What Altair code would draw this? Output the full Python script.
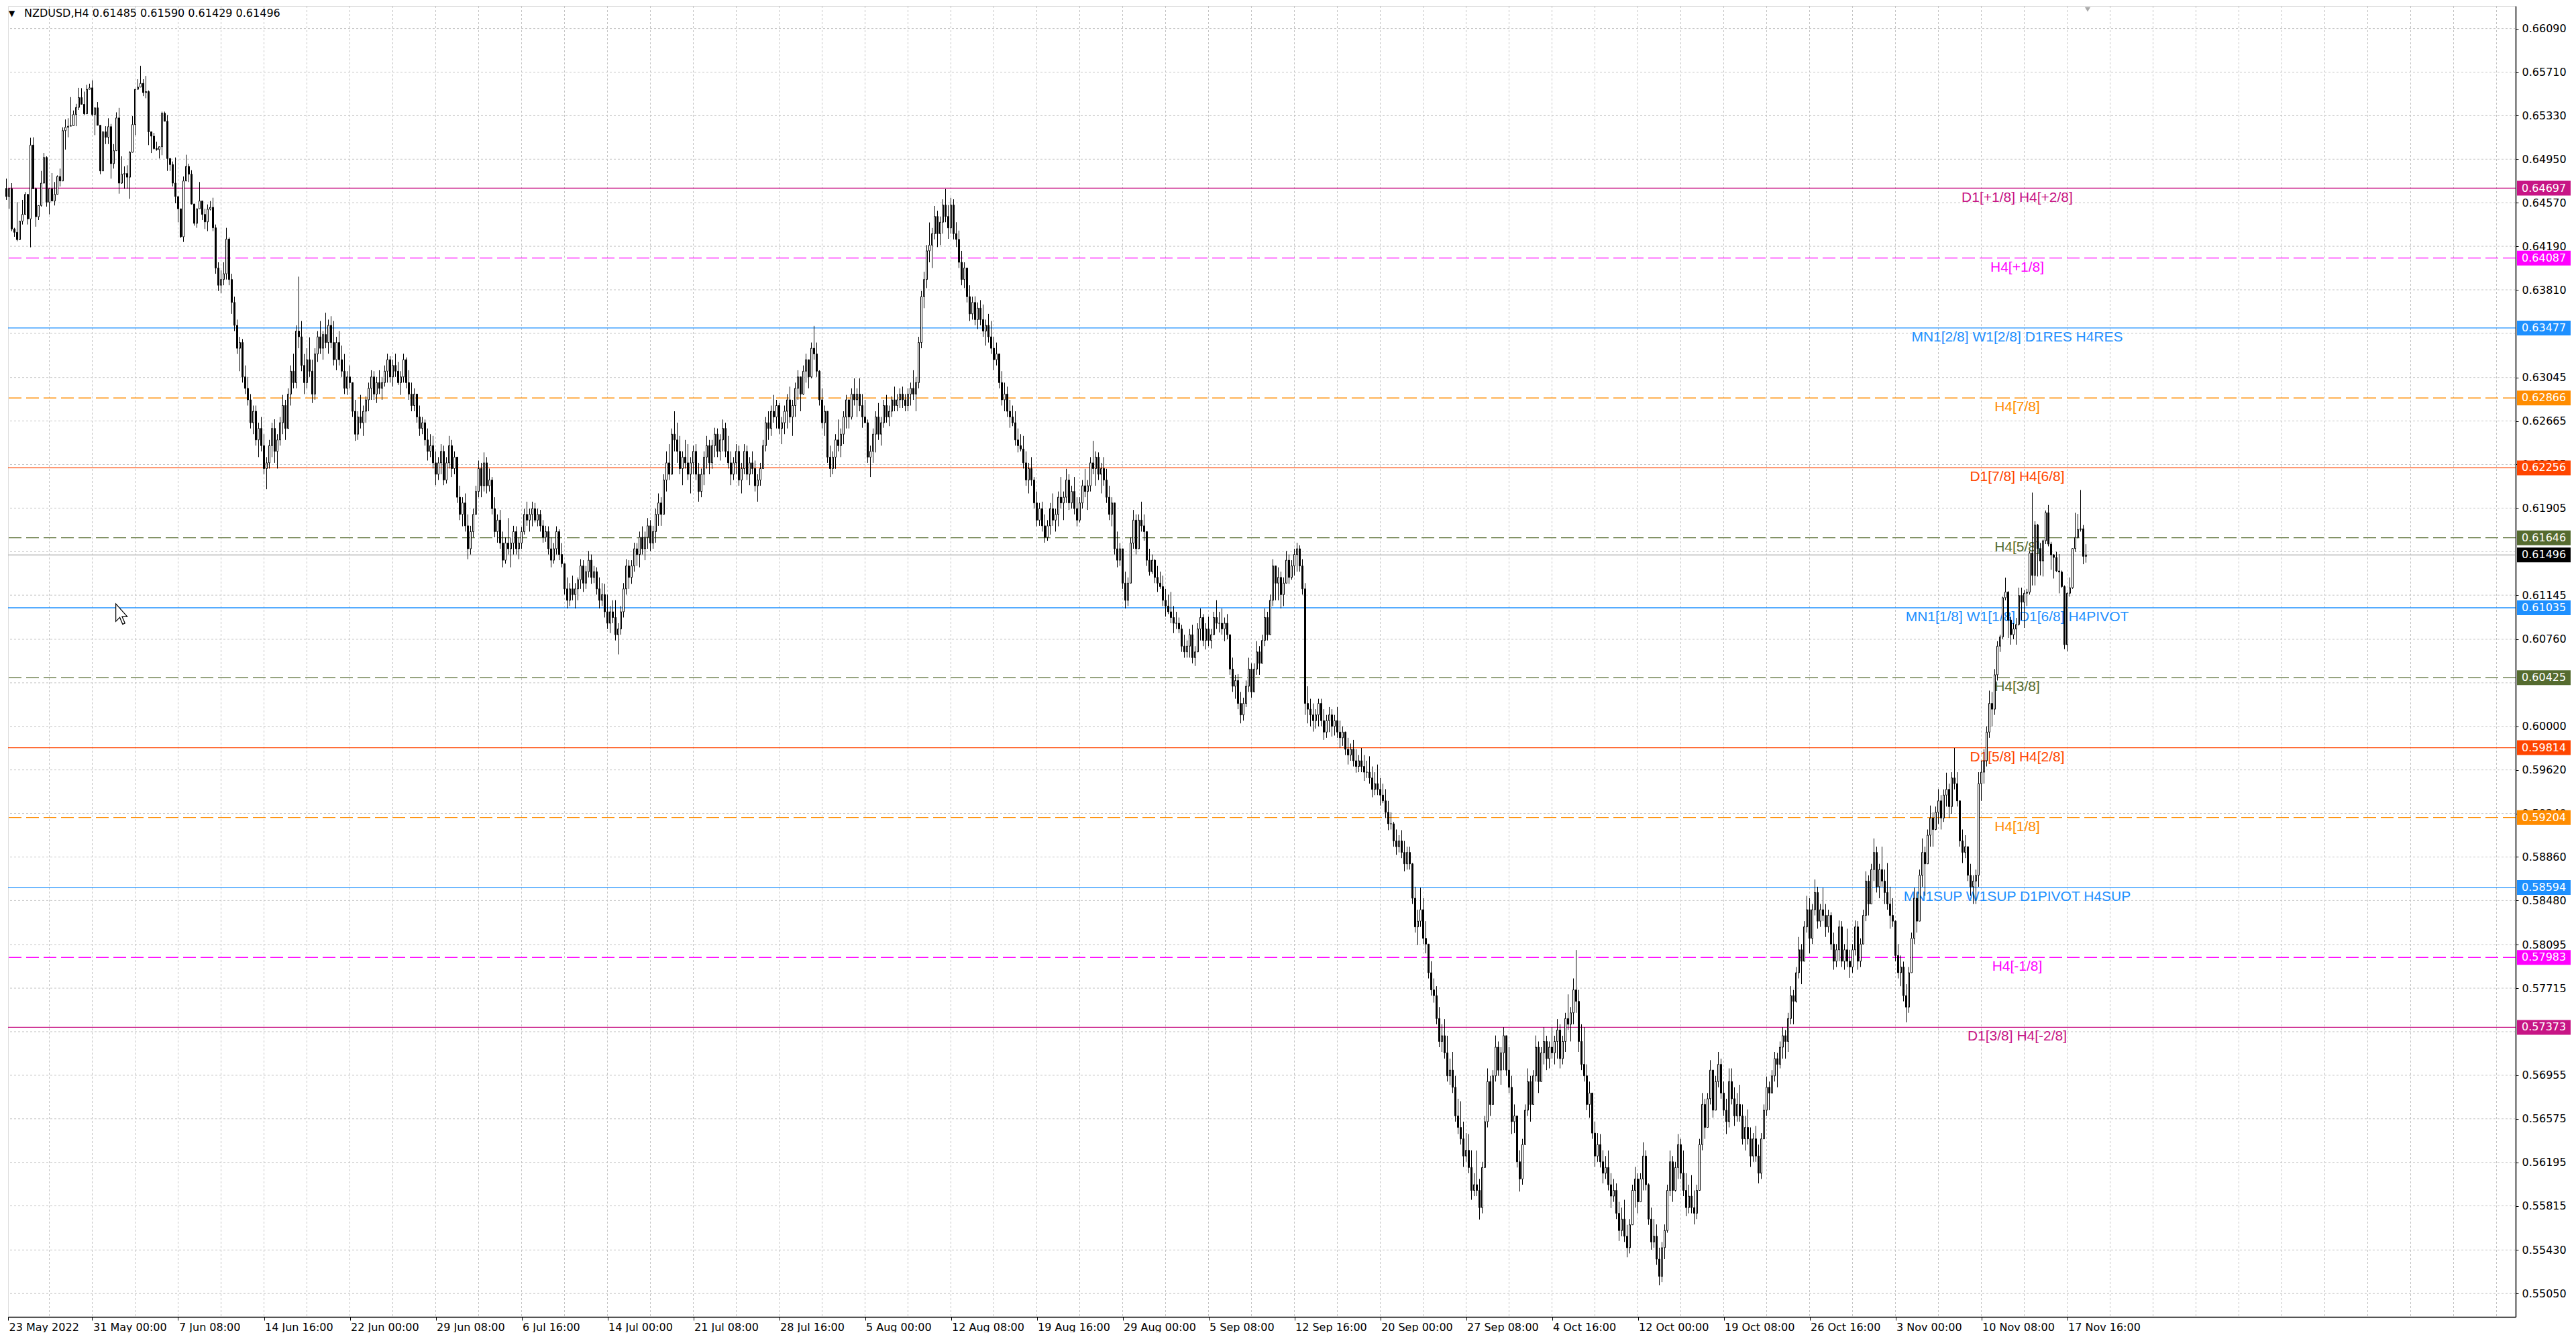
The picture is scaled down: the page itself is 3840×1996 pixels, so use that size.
import altair as alt
import pandas as pd

# ---------------- layout constants ----------------
W, H = 3738, 1954
X_DOMAIN = [0.625, 935.125]
Y_DOMAIN = [0.548464, 0.662867]
FONT = "DejaVu Sans"
LFONT = "Liberation Sans"

# ---------------- data: NZDUSD H4 candles (prices x 1e5) ----------------
first_open_1e5 = 64696
highs_1e5 = [
    64780, 64700, 64741, 64351, 64575, 64409, 64595, 64663, 64643, 65137,
    65141, 64702, 64546, 64848, 65004, 64975, 64692, 64829, 64751, 64809,
    64868, 65228, 65297, 65307, 65492, 65375, 65433, 65573, 65570, 65540,
    65599, 65609, 65638, 65398, 65449, 65246, 65189, 65238, 65307, 65258,
    65082, 65359, 65398, 64975, 64887, 64897, 65020, 65326, 65560, 65648,
    65765, 65648, 65677, 65550, 65189, 65180, 65102, 65059, 65365, 65365,
    65336, 64956, 64930, 64965, 64624, 64517, 64799, 64989, 64911, 64854,
    64559, 64517, 64751, 64585, 64517, 64555, 64585, 64614, 64380, 64050,
    63980, 64050, 64351, 64267, 63950, 63750, 63550, 63400, 63380, 63150,
    63050, 62900, 62800, 62800, 62650, 62700, 62550, 62350, 62500, 62650,
    62680, 62550, 62700, 62893, 62850, 62950, 63150, 63252, 63500, 63925,
    63538, 63250, 63300, 63395, 63200, 63300, 63450, 63538, 63450, 63610,
    63550, 63580, 63538, 63400, 63450, 63323, 63250, 63100, 63150, 62965,
    62850, 62750, 62893, 62800, 62880, 63000, 63108, 63100, 63050, 63108,
    63050, 63150, 63252, 63230, 63200, 63252, 63180, 63100, 63252, 63220,
    63108, 63000, 62950, 62893, 62800, 62700, 62678, 62600, 62550, 62535,
    62400, 62350, 62463, 62450, 62350, 62535, 62500, 62400, 62248, 62100,
    62000, 62033, 61850, 61750, 61900, 62100, 62320, 62300, 62391, 62350,
    62250, 62176, 62000, 61850, 61889, 61700, 61650, 61818, 61650, 61750,
    61746, 61650, 61740, 61900, 61961, 61900, 61961, 61950, 61900, 61889,
    61800, 61750, 61746, 61650, 61600, 61746, 61720, 61600, 61388, 61300,
    61250, 61316, 61250, 61300, 61459, 61450, 61400, 61531, 61500, 61400,
    61388, 61300, 61250, 61244, 61150, 61050, 61100, 61101, 60900, 61050,
    61250, 61459, 61450, 61450, 61603, 61600, 61700, 61746, 61700, 61818,
    61800, 61750, 61900, 62033, 62000, 62200, 62400, 62463, 62600, 62750,
    62650, 62535, 62400, 62500, 62463, 62350, 62450, 62463, 62300, 62250,
    62400, 62535, 62500, 62500, 62606, 62600, 62550, 62678, 62650, 62535,
    62400, 62350, 62463, 62450, 62300, 62463, 62450, 62350, 62400, 62320,
    62200, 62300, 62500, 62700, 62750, 62800, 62893, 62850, 62822, 62700,
    62800, 62900, 62965, 62850, 63000, 63108, 63050, 63150, 63252, 63200,
    63350, 63495, 63350, 63108, 62950, 62800, 62606, 62450, 62400, 62550,
    62678, 62600, 62750, 62893, 62850, 62950, 63037, 62950, 63037, 62900,
    62850, 62678, 62450, 62600, 62750, 62822, 62700, 62850, 62893, 62800,
    62880, 62965, 62900, 62950, 62965, 62900, 62950, 63000, 63108, 63050,
    63400, 63800, 63968, 64200, 64398, 64350, 64542, 64500, 64450, 64600,
    64690, 64550, 64614, 64600, 64400, 64327, 64150, 64050, 63968, 63850,
    63750, 63753, 63700, 63720, 63682, 63550, 63600, 63538, 63400, 63350,
    63252, 63100, 63000, 62965, 62850, 62800, 62750, 62600, 62550, 62535,
    62400, 62300, 62350, 62176, 62050, 61950, 61961, 61850, 61800, 61950,
    62033, 61900, 62050, 62176, 62050, 62248, 62200, 62100, 62176, 62000,
    62000, 62150, 62248, 62150, 62350, 62492, 62400, 62391, 62300, 62350,
    62248, 62100, 62000, 61818, 61700, 61600, 61531, 61350, 61300, 61650,
    61889, 61850, 61850, 61961, 61850, 61674, 61550, 61500, 61459, 61400,
    61350, 61316, 61200, 61150, 61173, 61050, 61000, 60950, 60886, 60800,
    60750, 60850, 60886, 60700, 60900, 61029, 60980, 60900, 60958, 60850,
    61000, 61101, 61000, 61029, 60950, 60980, 60743, 60600, 60450, 60456,
    60300, 60250, 60400, 60599, 60550, 60550, 60743, 60700, 60800, 61029,
    61000, 61150, 61459, 61400, 61388, 61350, 61300, 61531, 61500, 61450,
    61550, 61603, 61580, 61459, 61250, 60350, 60241, 60200, 60150, 60241,
    60241, 60150, 60100, 60169, 60150, 60100, 60169, 60050, 60000, 59954,
    59900, 59850, 59882, 59800, 59750, 59811, 59750, 59700, 59739, 59650,
    59600, 59667, 59550, 59500, 59452, 59350, 59250, 59166, 59100, 59050,
    59094, 59000, 58950, 58950, 58807, 58600, 58400, 58592, 58500, 58300,
    58091, 57950, 57800, 57732, 57550, 57400, 57445, 57300, 57100, 57159,
    56950, 56750, 56728, 56550, 56450, 56442, 56300, 56100, 56298, 56050,
    56200, 56600, 57015, 56950, 57000, 57302, 57250, 57200, 57374, 57300,
    57200, 56950, 56700, 56585, 56300, 56400, 56700, 57015, 56950, 57000,
    57302, 57250, 57200, 57374, 57300, 57250, 57374, 57300, 57445, 57400,
    57300, 57500, 57661, 57550, 57800, 58048, 57700, 57400, 57374, 57050,
    56900, 56728, 56550, 56450, 56442, 56300, 56250, 56298, 56100, 56050,
    56011, 55850, 55800, 55868, 55650, 55700, 56000, 56155, 56100, 56100,
    56370, 56300, 56011, 55800, 55700, 55653, 55450, 55500, 55653, 56000,
    56298, 56250, 56200, 56442, 56400, 56298, 56100, 56000, 56083, 55950,
    56000, 56400, 56800, 56750, 56800, 57087, 57000, 56950, 57159, 57100,
    56900, 56750, 57015, 57015, 56850, 56800, 56872, 56700, 56600, 56657,
    56500, 56450, 56513, 56350, 56450, 56700, 56944, 56900, 57000, 57159,
    57150, 57250, 57374, 57350, 57500, 57732, 57700, 57900, 58162, 58100,
    58300, 58521, 58500, 58450, 58664, 58600, 58450, 58592, 58450, 58400,
    58377, 58200, 58100, 58306, 58300, 58100, 58234, 58050, 58100, 58306,
    58300, 58150, 58400, 58735, 58700, 58800, 59022, 58950, 58800, 58950,
    58750, 58807, 58600, 58500, 58306, 58100, 58000, 57947, 57750, 57900,
    58200, 58592, 58550, 58750, 59022, 58950, 59100, 59309, 59250, 59300,
    59452, 59400, 59450, 59596, 59500, 59600, 59811, 59600, 59309, 59100,
    59050, 58950, 58800, 58700, 58750, 59600, 59700, 59800, 60000, 60312,
    60300, 60500, 60743, 60800, 61132, 61298, 61180, 60957, 60900, 60947,
    61211, 61211, 61190, 61200, 61530, 62040, 61790, 61767, 61601, 61630,
    61884, 61932, 61610, 61503, 61523, 61503, 61360, 61230, 61170, 61300,
    61540, 61864, 61854, 62063, 61757, 61590,
]
lows_1e5 = [
    64595, 64517, 64322, 64273, 64234, 64244, 64380, 64468, 64380, 64181,
    64692, 64361, 64419, 64536, 64741, 64536, 64468, 64585, 64546, 64643,
    64712, 64760, 65034, 65141, 65238, 65242, 65238, 65379, 65429, 65336,
    65346, 65560, 65326, 65160, 65246, 64819, 64848, 65082, 65082, 64780,
    64868, 65024, 64649, 64735, 64692, 64692, 64604, 65010, 65160, 65560,
    65579, 65501, 65482, 65073, 65004, 65034, 65024, 64956, 64985, 65281,
    64848, 64848, 64712, 64565, 64399, 64263, 64228, 64760, 64751, 64555,
    64370, 64351, 64517, 64419, 64341, 64322, 64503, 64322, 63950, 63800,
    63780, 63850, 63900, 63850, 63600, 63450, 63250, 63100, 63000, 62900,
    62800, 62600, 62550, 62450, 62350, 62400, 62200, 62070, 62250, 62350,
    62300, 62250, 62450, 62550, 62500, 62600, 62800, 62950, 62950, 63300,
    63100, 62900, 62950, 63050, 62822, 62850, 63180, 63250, 63200, 63300,
    63252, 63300, 63150, 63108, 63150, 63050, 62900, 62893, 62950, 62700,
    62492, 62500, 62600, 62535, 62650, 62750, 62850, 62850, 62822, 62900,
    62850, 62965, 63000, 63000, 62965, 63050, 62980, 62893, 63000, 62950,
    62850, 62750, 62750, 62650, 62535, 62550, 62450, 62320, 62350, 62250,
    62105, 62150, 62200, 62105, 62120, 62250, 62176, 62200, 61950, 61800,
    61746, 61700, 61459, 61500, 61650, 61889, 62000, 62000, 62050, 62033,
    62050, 61850, 61650, 61603, 61550, 61388, 61420, 61500, 61388, 61500,
    61500, 61459, 61550, 61674, 61750, 61700, 61746, 61780, 61746, 61700,
    61603, 61610, 61500, 61388, 61420, 61500, 61450, 61388, 61150, 61029,
    61050, 61100, 61029, 61100, 61200, 61173, 61200, 61300, 61244, 61250,
    61150, 61029, 61050, 60950, 60850, 60814, 60900, 60750, 60628, 60800,
    60950, 61150, 61200, 61244, 61350, 61400, 61388, 61500, 61450, 61550,
    61531, 61550, 61603, 61750, 61750, 61850, 62050, 62150, 62248, 62400,
    62300, 62200, 62105, 62250, 62150, 62033, 62200, 62150, 61961, 62000,
    62105, 62250, 62200, 62248, 62350, 62350, 62320, 62400, 62350, 62250,
    62105, 62150, 62200, 62100, 62033, 62200, 62150, 62105, 62200, 62050,
    61961, 62100, 62248, 62400, 62500, 62535, 62650, 62600, 62550, 62463,
    62550, 62600, 62650, 62535, 62700, 62850, 62750, 62893, 63000, 62950,
    63037, 63200, 63050, 62800, 62600, 62535, 62300, 62176, 62200, 62248,
    62400, 62350, 62463, 62600, 62600, 62678, 62800, 62700, 62750, 62606,
    62650, 62300, 62176, 62300, 62391, 62500, 62450, 62606, 62650, 62620,
    62700, 62750, 62750, 62780, 62780, 62750, 62750, 62800, 62850, 62750,
    62950, 63300, 63650, 63825, 64050, 64000, 64250, 64183, 64200, 64300,
    64400, 64255, 64300, 64250, 64183, 64000, 63850, 63825, 63700, 63538,
    63550, 63500, 63467, 63500, 63400, 63323, 63350, 63250, 63108, 63150,
    62950, 62800, 62750, 62700, 62606, 62620, 62450, 62391, 62400, 62250,
    62100, 62033, 62100, 61900, 61746, 61750, 61700, 61603, 61620, 61674,
    61750, 61700, 61746, 61900, 61800, 61950, 61889, 61900, 61850, 61746,
    61780, 61900, 62000, 61889, 62050, 62200, 62100, 62150, 62033, 62100,
    61950, 61800, 61746, 61500, 61388, 61400, 61200, 61029, 61050, 61250,
    61550, 61500, 61603, 61700, 61620, 61400, 61316, 61330, 61250, 61173,
    61200, 61050, 60958, 60980, 60900, 60814, 60850, 60814, 60650, 60599,
    60600, 60600, 60550, 60527, 60671, 60750, 60700, 60671, 60700, 60680,
    60814, 60850, 60820, 60800, 60743, 60760, 60450, 60300, 60241, 60150,
    60026, 60050, 60169, 60300, 60250, 60384, 60450, 60450, 60550, 60700,
    60750, 60800, 61050, 61100, 61100, 61029, 61050, 61250, 61244, 61280,
    61316, 61350, 61350, 61150, 60100, 60026, 60000, 59954, 59980, 60000,
    60000, 59882, 59900, 59950, 59911, 59920, 59900, 59811, 59830, 59750,
    59667, 59700, 59650, 59596, 59600, 59600, 59524, 59550, 59500, 59381,
    59400, 59400, 59309, 59330, 59200, 59094, 59100, 58950, 58879, 58900,
    58850, 58735, 58750, 58750, 58450, 58200, 58091, 58250, 58100, 58019,
    57800, 57650, 57589, 57400, 57200, 57159, 57100, 56900, 56872, 56800,
    56550, 56442, 56350, 56155, 56200, 56100, 55868, 55900, 55900, 55696,
    55750, 56150, 56500, 56600, 56800, 56900, 56950, 56872, 57000, 56950,
    56800, 56442, 56450, 56150, 55940, 56000, 56442, 56600, 56550, 56700,
    56900, 56800, 56944, 57050, 57000, 57015, 57100, 57050, 57100, 57015,
    57050, 57159, 57350, 57250, 57400, 57500, 57159, 57000, 56900, 56650,
    56585, 56400, 56155, 56200, 56150, 56011, 56050, 55950, 55796, 55850,
    55700, 55509, 55550, 55500, 55366, 55400, 55653, 55800, 55750, 55868,
    55950, 55950, 55650, 55432, 55450, 55300, 55122, 55150, 55350, 55581,
    55900, 55850, 55940, 56050, 56050, 55900, 55725, 55750, 55750, 55653,
    55700, 55950, 56300, 56400, 56500, 56700, 56585, 56657, 56850, 56750,
    56600, 56442, 56500, 56700, 56513, 56550, 56550, 56350, 56298, 56350,
    56155, 56200, 56200, 56011, 56050, 56442, 56600, 56650, 56800, 56900,
    56850, 57015, 57100, 57100, 57159, 57400, 57400, 57589, 57800, 57750,
    57950, 58200, 58019, 58100, 58350, 58234, 58250, 58300, 58162, 58200,
    58050, 57876, 57900, 57950, 57900, 57876, 57900, 57804, 57850, 58000,
    57876, 57900, 58100, 58300, 58350, 58449, 58650, 58550, 58500, 58600,
    58449, 58400, 58234, 58250, 57950, 57800, 57732, 57600, 57417, 57500,
    57850, 58100, 58200, 58300, 58600, 58521, 58879, 58950, 58950, 59094,
    59150, 59100, 59166, 59300, 59200, 59237, 59450, 59300, 58950, 58807,
    58850, 58650, 58521, 58450, 58450, 58600, 59350, 59500, 59650, 59900,
    60000, 60100, 60400, 60650, 60760, 61100, 60771, 60713, 60760, 60713,
    60880, 60928, 60859, 61050, 61150, 61230, 61230, 61308, 61318, 61308,
    61591, 61571, 61366, 61290, 61347, 61161, 61210, 60674, 60654, 61132,
    61200, 61523, 61640, 61700, 61415, 61429,
]
closes_1e5 = [
    64624, 64692, 64341, 64312, 64248, 64409, 64468, 64643, 64429, 65073,
    64692, 64448, 64546, 64741, 64965, 64575, 64692, 64585, 64643, 64799,
    64760, 65199, 65228, 65238, 65242, 65340, 65402, 65488, 65429, 65346,
    65560, 65573, 65340, 65398, 65246, 64848, 65189, 65141, 65234, 64911,
    65024, 65310, 64741, 64819, 64825, 64793, 65010, 65252, 65560, 65579,
    65612, 65531, 65540, 65189, 65151, 65043, 65034, 65059, 65351, 65281,
    64956, 64903, 64741, 64624, 64517, 64273, 64760, 64887, 64819, 64559,
    64390, 64517, 64585, 64468, 64403, 64513, 64530, 64351, 64000, 63850,
    63900, 63950, 64253, 63900, 63700, 63500, 63300, 63350, 63050, 62950,
    62850, 62650, 62750, 62500, 62600, 62450, 62250, 62300, 62450, 62600,
    62400, 62500, 62650, 62800, 62600, 62900, 63100, 63000, 63450, 63400,
    63150, 63000, 63200, 63100, 62900, 63250, 63400, 63300, 63420, 63350,
    63500, 63350, 63200, 63350, 63200, 63100, 62950, 63050, 63000, 62750,
    62550, 62700, 62650, 62750, 62850, 62950, 63050, 62900, 63000, 62950,
    63000, 63100, 63200, 63050, 63150, 63100, 63000, 63050, 63200, 63000,
    62900, 62800, 62900, 62700, 62600, 62650, 62500, 62400, 62450, 62300,
    62200, 62300, 62400, 62150, 62300, 62450, 62250, 62350, 62000, 61850,
    61950, 61750, 61550, 61700, 61850, 62050, 62250, 62100, 62300, 62100,
    62150, 61900, 61700, 61800, 61600, 61450, 61600, 61550, 61600, 61700,
    61550, 61600, 61700, 61850, 61800, 61850, 61900, 61800, 61850, 61750,
    61650, 61700, 61550, 61450, 61550, 61700, 61500, 61420, 61200, 61100,
    61200, 61150, 61200, 61280, 61400, 61250, 61350, 61450, 61300, 61350,
    61200, 61100, 61150, 61000, 60900, 61000, 60950, 60800, 60850, 61000,
    61200, 61400, 61300, 61400, 61550, 61500, 61650, 61550, 61650, 61750,
    61600, 61700, 61850, 61950, 61850, 62150, 62300, 62200, 62550, 62500,
    62400, 62250, 62350, 62300, 62200, 62300, 62400, 62200, 62050, 62200,
    62350, 62450, 62300, 62450, 62550, 62400, 62500, 62600, 62400, 62300,
    62200, 62300, 62400, 62150, 62250, 62400, 62200, 62300, 62250, 62100,
    62150, 62250, 62450, 62650, 62600, 62750, 62700, 62800, 62600, 62650,
    62750, 62850, 62700, 62800, 62950, 63050, 62900, 63100, 63200, 63050,
    63300, 63250, 63100, 62850, 62650, 62750, 62350, 62250, 62350, 62500,
    62450, 62550, 62700, 62850, 62700, 62900, 62850, 62900, 62800, 62700,
    62650, 62350, 62400, 62550, 62700, 62550, 62650, 62800, 62700, 62750,
    62850, 62800, 62850, 62900, 62850, 62800, 62900, 62950, 62900, 63000,
    63350, 63750, 63900, 64150, 64200, 64300, 64450, 64300, 64400, 64550,
    64450, 64350, 64550, 64300, 64250, 64050, 63900, 64000, 63750, 63600,
    63700, 63550, 63650, 63550, 63450, 63500, 63400, 63300, 63200, 63250,
    63000, 62850, 62900, 62750, 62700, 62650, 62500, 62450, 62420, 62300,
    62150, 62250, 62150, 61950, 61800, 61900, 61750, 61650, 61750, 61900,
    61800, 61850, 62000, 61950, 62000, 62150, 61950, 62050, 61900, 61800,
    61950, 62100, 62050, 62100, 62300, 62250, 62350, 62200, 62250, 62150,
    62000, 61850, 61950, 61550, 61450, 61550, 61250, 61100, 61250, 61600,
    61800, 61550, 61800, 61750, 61700, 61450, 61350, 61450, 61300, 61250,
    61220, 61100, 61050, 61000, 60950, 60900, 60900, 60850, 60700, 60650,
    60700, 60800, 60600, 60650, 60850, 60950, 60750, 60850, 60750, 60800,
    60950, 60900, 60900, 60850, 60900, 60800, 60500, 60350, 60400, 60200,
    60100, 60200, 60350, 60500, 60300, 60500, 60650, 60550, 60750, 60950,
    60800, 61100, 61400, 61250, 61300, 61150, 61250, 61450, 61300, 61400,
    61500, 61550, 61400, 61200, 60200, 60150, 60100, 60050, 60100, 60200,
    60050, 59950, 60050, 60100, 60000, 60050, 59950, 59900, 59950, 59800,
    59750, 59800, 59700, 59650, 59700, 59650, 59600, 59600, 59550, 59450,
    59500, 59450, 59400, 59350, 59250, 59150, 59150, 59000, 58950, 59000,
    58900, 58800, 58900, 58800, 58500, 58250, 58300, 58400, 58150, 58100,
    57850, 57700, 57650, 57450, 57250, 57300, 57150, 56950, 57000, 56850,
    56600, 56500, 56400, 56250, 56300, 56150, 55950, 56000, 55950, 55800,
    56150, 56550, 56900, 56700, 56950, 57200, 57000, 57150, 57300, 57000,
    56850, 56550, 56600, 56200, 56050, 56350, 56650, 56900, 56700, 56950,
    57200, 56900, 57150, 57250, 57100, 57200, 57150, 57250, 57350, 57100,
    57250, 57450, 57400, 57500, 57700, 57600, 57250, 57050, 56950, 56700,
    56800, 56450, 56250, 56350, 56200, 56100, 56150, 56000, 55900, 55950,
    55750, 55600, 55700, 55550, 55450, 55650, 55950, 56050, 55850, 56050,
    56250, 56000, 55700, 55500, 55550, 55350, 55200, 55450, 55600, 55950,
    56200, 55950, 56150, 56350, 56100, 55950, 55800, 55900, 55800, 55750,
    55950, 56350, 56700, 56500, 56750, 57000, 56650, 56900, 57050, 56800,
    56650, 56550, 56900, 56750, 56600, 56700, 56600, 56400, 56500, 56400,
    56250, 56400, 56250, 56100, 56400, 56650, 56850, 56800, 56950, 57100,
    57050, 57200, 57300, 57250, 57450, 57650, 57600, 57850, 58050, 57950,
    58250, 58400, 58150, 58400, 58550, 58300, 58400, 58350, 58250, 58350,
    58100, 57950, 58050, 58250, 57950, 58050, 57950, 57900, 58050, 58250,
    57950, 58100, 58350, 58650, 58450, 58750, 58900, 58600, 58750, 58650,
    58550, 58450, 58350, 58300, 58000, 57850, 57900, 57650, 57550, 57850,
    58150, 58500, 58300, 58700, 58900, 58800, 59050, 59200, 59100, 59250,
    59350, 59200, 59400, 59450, 59300, 59550, 59500, 59350, 59000, 58900,
    58950, 58700, 58600, 58650, 58700, 59500, 59600, 59700, 59950, 60200,
    60150, 60450, 60700, 60781, 61123, 61172, 60928, 60800, 60850, 60889,
    61142, 61084, 61162, 61171, 61513, 61318, 61757, 61552, 61444, 61620,
    61864, 61591, 61497, 61474, 61357, 61347, 61220, 60713, 61162, 61210,
    61552, 61649, 61718, 61724, 61484, 61496,
]

# price grid lines (every one) and the axis labels that are not hidden behind level tags
price_ticks = [0.66090, 0.65710, 0.65330, 0.64950, 0.64570, 0.64190, 0.63810, 0.63430,
               0.63045, 0.62665, 0.62285, 0.61905, 0.61525, 0.61145, 0.60760, 0.60380,
               0.60000, 0.59620, 0.59240, 0.58860, 0.58480, 0.58095, 0.57715, 0.57335,
               0.56955, 0.56575, 0.56195, 0.55815, 0.55430, 0.55050]
hidden_price_labels = [0.63430, 0.61525, 0.60380, 0.57335]
price_label_ticks = [p for p in price_ticks if p not in hidden_price_labels]

time_tick_bars = [0.625] + [32 * k for k in range(1, 25)]
time_tick_labels = ["23 May 2022", "31 May 00:00", "7 Jun 08:00", "14 Jun 16:00", "22 Jun 00:00",
                    "29 Jun 08:00", "6 Jul 16:00", "14 Jul 00:00", "21 Jul 08:00", "28 Jul 16:00",
                    "5 Aug 00:00", "12 Aug 08:00", "19 Aug 16:00", "29 Aug 00:00", "5 Sep 08:00",
                    "12 Sep 16:00", "20 Sep 00:00", "27 Sep 08:00", "4 Oct 16:00", "12 Oct 00:00",
                    "19 Oct 08:00", "26 Oct 16:00", "3 Nov 00:00", "10 Nov 08:00", "17 Nov 16:00"]
vgrid_bars = list(range(16, 936, 16))

level_prices = [0.64697, 0.64087, 0.63477, 0.62866, 0.62256, 0.61646, 0.61035,
                0.60425, 0.59814, 0.59204, 0.58594, 0.57983, 0.57373]
level_names = ["D1[+1/8] H4[+2/8]", "H4[+1/8]", "MN1[2/8] W1[2/8] D1RES H4RES", "H4[7/8]",
               "D1[7/8] H4[6/8]", "H4[5/8]", "MN1[1/8] W1[1/8] D1[6/8] H4PIVOT", "H4[3/8]",
               "D1[5/8] H4[2/8]", "H4[1/8]", "MN1SUP W1SUP D1PIVOT H4SUP", "H4[-1/8]",
               "D1[3/8] H4[-2/8]"]
level_colors = ["#C71585", "#FF00FF", "#1E90FF", "#FF8C00", "#FF4500", "#556B2F", "#1E90FF",
                "#556B2F", "#FF4500", "#FF8C00", "#1E90FF", "#FF00FF", "#C71585"]
level_dashed = [False, True, False, True, False, True, False, True, False, True, False, True, False]

bid_price = 0.61496
title_text = "NZDUSD,H4  0.61485 0.61590 0.61429 0.61496"

# ---------------- tables ----------------
n = len(closes_1e5)
opens_1e5 = [first_open_1e5] + closes_1e5[:-1]
cdf = pd.DataFrame({
    "bar": list(range(n)),
    "open": [v / 1e5 for v in opens_1e5],
    "close": [v / 1e5 for v in closes_1e5],
    "high": [max(h, o, c) / 1e5 for h, o, c in zip(highs_1e5, opens_1e5, closes_1e5)],
    "low": [min(l, o, c) / 1e5 for l, o, c in zip(lows_1e5, opens_1e5, closes_1e5)],
})
bull_df = cdf[cdf["close"] >= cdf["open"]]
bear_df = cdf[cdf["close"] < cdf["open"]]

ldf = pd.DataFrame(dict(price=level_prices, name=level_names, color=level_colors, dashed=level_dashed))
box_df = pd.DataFrame(dict(
    price=level_prices + [bid_price],
    color=level_colors + ["#000000"],
    label=[f"{p:.5f}" for p in level_prices + [bid_price]],
))

xs = alt.Scale(domain=X_DOMAIN, nice=False, zero=False)
ys = alt.Scale(domain=Y_DOMAIN, nice=False, zero=False)

label_list = "[" + ",".join(f"'{t}'" for t in time_tick_labels) + "]"
X_AXIS = alt.Axis(
    orient="bottom", values=time_tick_bars, labelExpr=f"{label_list}[round(datum.value/32)]",
    grid=False, title=None, domainColor="black", domainWidth=1.5, tickColor="black", tickSize=5,
    labelFont=FONT, labelFontSize=16, labelColor="black", labelAlign="left", labelBaseline="top",
    labelPadding=2, labelOffset=1, labelOverlap=False, labelFlush=False)
Y_AXIS = alt.Axis(
    orient="right", values=price_label_ticks, format=".5f", grid=False, title=None,
    domainColor="black", domainWidth=1.5, tickColor="black", tickSize=4, labelPadding=5,
    labelFont=FONT, labelFontSize=16, labelColor="black", labelOverlap=False, labelFlush=False)


def X(field):
    return alt.X(field, type="quantitative", scale=xs, axis=X_AXIS)


def Y(field):
    return alt.Y(field, type="quantitative", scale=ys, axis=Y_AXIS)


hgrid = alt.Chart(pd.DataFrame({"p": price_ticks})).mark_rule(
    color="#C4C4C4", strokeDash=[3, 3], strokeWidth=1).encode(y=Y("p"))
vgrid = alt.Chart(pd.DataFrame({"b": vgrid_bars})).mark_rule(
    color="#C4C4C4", strokeDash=[3, 3], strokeWidth=1).encode(x=X("b"))

lv_solid = alt.Chart(ldf[~ldf["dashed"]]).mark_rule(strokeWidth=1.3).encode(
    y=Y("price"), color=alt.Color("color:N", scale=None))
lv_dash = alt.Chart(ldf[ldf["dashed"]]).mark_rule(strokeWidth=1.3, strokeDash=[19, 7]).encode(
    y=Y("price"), color=alt.Color("color:N", scale=None))

bid_line = alt.Chart(pd.DataFrame({"price": [bid_price]})).mark_rule(
    color="#BDBDBD", strokeWidth=1.3).encode(y=Y("price"))

lv_text = alt.Chart(ldf).mark_text(font=LFONT, fontSize=21, align="center", baseline="alphabetic",
                                   dy=20).encode(
    x=alt.value(2995), y=Y("price"), text="name:N", color=alt.Color("color:N", scale=None))

wicks = alt.Chart(cdf).mark_rule(color="black", strokeWidth=1).encode(
    x=X("bar"), y=Y("low"), y2="high:Q")

bear = alt.Chart(bear_df).mark_rect(fill="black", stroke="black", strokeWidth=1,
                                    xOffset=-1, x2Offset=1).encode(
    x=X("bar"), x2="bar:Q", y=Y("open"), y2="close:Q")
bull = alt.Chart(bull_df).mark_rect(fill="white", stroke="black", strokeWidth=1,
                                    xOffset=-1, x2Offset=1).encode(
    x=X("bar"), x2="bar:Q", y=Y("open"), y2="close:Q")

boxes = alt.Chart(box_df).mark_rect(yOffset=-11, y2Offset=11).encode(
    x=alt.value(W + 2), x2=alt.value(W + 82), y=Y("price"), y2="price:Q",
    color=alt.Color("color:N", scale=None))
box_text = alt.Chart(box_df).mark_text(font=FONT, fontSize=16, color="white", align="left",
                                       baseline="middle").encode(
    x=alt.value(W + 9), y=Y("price"), text="label:N")

one = pd.DataFrame({"t": [title_text]})
title = alt.Chart(one).mark_text(font=FONT, fontSize=16, color="black", align="left",
                                 baseline="middle").encode(
    x=alt.value(24), y=alt.value(11), text="t:N")
tri = alt.Chart(one).mark_text(font=FONT, fontSize=12, color="black", align="left",
                               baseline="middle").encode(
    x=alt.value(1), y=alt.value(11), text=alt.value("▼"))
shift_mark = alt.Chart(one).mark_point(shape="triangle-down", filled=True, color="#A8A8A8",
                                       size=70, opacity=1).encode(
    x=alt.value(3100), y=alt.value(5))

# mouse pointer visible in the screenshot
cursor_shape = "M-0.55,-1 L-0.55,0.55 L-0.2,0.2 L0.05,0.8 L0.25,0.7 L0.0,0.12 L0.45,0.12 Z"
cursor = alt.Chart(one).mark_point(shape=cursor_shape, filled=True, fill="white", stroke="black",
                                   strokeWidth=1.2, size=1156, opacity=1).encode(
    x=alt.value(170), y=alt.value(908))

chart = alt.layer(
    hgrid, vgrid, lv_solid, lv_dash, bid_line, lv_text, wicks, bear, bull,
    boxes, box_text, title, tri, shift_mark, cursor
).properties(
    width=W, height=H, padding=0
).configure_view(
    stroke="black", strokeWidth=1.5
).configure(background="white")

chart.save("out.html", embed_options={"renderer": "svg", "actions": False})
